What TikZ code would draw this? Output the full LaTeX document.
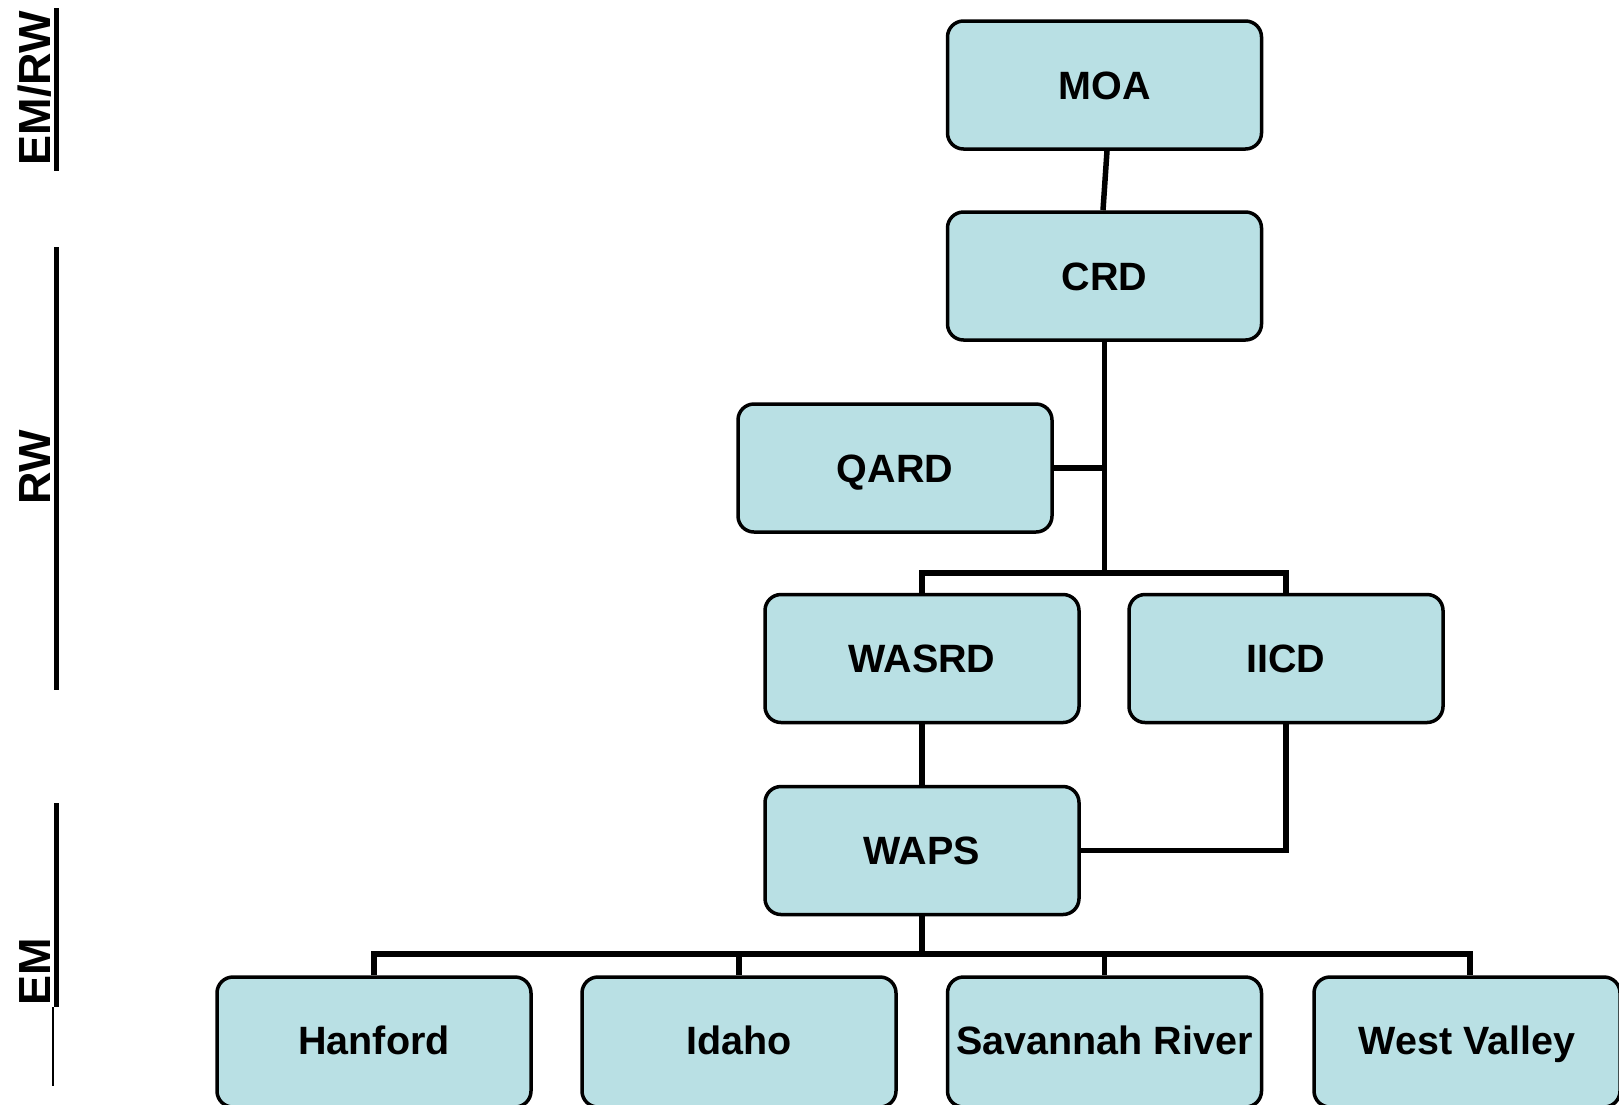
\documentclass[tikz,border=0pt]{standalone}
\usepackage{fontspec}
\setmainfont{Liberation Sans}
\definecolor{boxfill}{RGB}{185,224,228}
\begin{document}
\begin{tikzpicture}[x=1pt,y=-1pt,
  orgbox/.style={draw=black, line width=3.5pt, fill=boxfill, rounded corners=16pt,
    rectangle, minimum width=314pt, minimum height=128pt, inner sep=0pt,
    font=\fontsize{39.5}{42}\selectfont\bfseries, text height=28.3pt, text depth=0pt, align=center},
  lowbox/.style={orgbox, minimum height=130pt},
  conn/.style={draw=black, line width=5.5pt, line join=miter},
  sidelabel/.style={rotate=90, anchor=base, inner sep=0pt, font=\fontsize{45}{48}\selectfont\bfseries},
  bar/.style={draw=black, line width=5pt},
  thinbar/.style={draw=black, line width=2pt}
]
\useasboundingbox (0,0) rectangle (1619,1104);
\fill[white] (0,0) rectangle (1619,1104);

% side labels
\node[sidelabel] (lemrw) at (50,88) {EM/RW};
\node[sidelabel] (lrw) at (50,467) {RW};
\node[sidelabel] (lem) at (50,972) {EM};
\coordinate (b1t) at (56.5,8);   \coordinate (b1b) at (56.5,171);
\coordinate (b2t) at (56.5,247); \coordinate (b2b) at (56.5,690);
\coordinate (b3t) at (56.5,803); \coordinate (b3b) at (56.5,1007);
\coordinate (b4t) at (53.3,1007); \coordinate (b4b) at (53.3,1086);
\draw[bar] (b1t) -- (b1b);
\draw[bar] (b2t) -- (b2b);
\draw[bar] (b3t) -- (b3b);
\draw[thinbar] (b4t) -- (b4b);

% boxes
\node[orgbox] (moa)   at (1104.5,85)  {MOA};
\node[orgbox] (crd)   at (1104.5,276) {CRD};
\node[orgbox] (qard)  at (895,468)    {QARD};
\node[orgbox] (wasrd) at (922,658.5)  {WASRD};
\node[orgbox] (iicd)  at (1286,658.5) {IICD};
\node[orgbox] (waps)  at (922,850.5)  {WAPS};
\node[lowbox] (han)   at (374,1042)  {\raisebox{2pt}{Hanford}};
\node[lowbox] (ida)   at (739,1042)  {\raisebox{2pt}{Idaho}};
\node[lowbox] (sr)    at (1104.5,1042) {\raisebox{2pt}{Savannah River}};
\node[lowbox, minimum width=306pt] (wv) at (1467,1042) {\raisebox{2pt}{West Valley}};

% junctions
\coordinate (j1) at (1104.5,573);
\coordinate (j2) at (922,954);

% connectors
\draw[conn] ([xshift=2.5pt]moa.south) -- ([xshift=-1.5pt]crd.north);
\draw[conn] (crd.south) -- (j1);
\draw[conn] (qard.east) -- (qard.east -| crd.south);
\draw[conn] (wasrd.north) |- (j1) -| (iicd.north);
\draw[conn] (wasrd.south) -- (waps.north);
\draw[conn] (iicd.south) |- (waps.east);
\draw[conn] (waps.south) -- (j2);
\draw[conn] (han.north) |- (j2) -| ([xshift=3pt]wv.north);
\draw[conn] (ida.north) -- (ida.north |- j2);
\draw[conn] (sr.north) -- (sr.north |- j2);
\end{tikzpicture}
\end{document}
